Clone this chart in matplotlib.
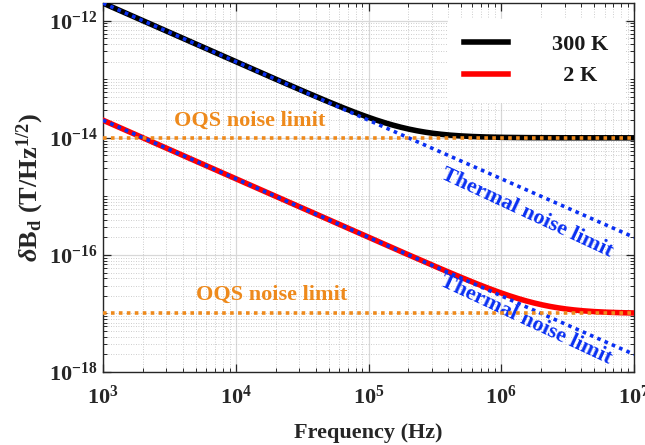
import numpy as np
import matplotlib
matplotlib.use("Agg")
import matplotlib.pyplot as plt
from matplotlib.ticker import LogLocator, FuncFormatter, NullFormatter, FixedLocator

plt.rcParams['font.family'] = ['Liberation Serif', 'DejaVu Serif']
plt.rcParams['font.weight'] = 'bold'
plt.rcParams['mathtext.fontset'] = 'custom'
plt.rcParams['mathtext.rm'] = 'Liberation Serif:bold'
plt.rcParams['mathtext.bf'] = 'Liberation Serif:bold'
plt.rcParams['mathtext.it'] = 'Liberation Serif:italic:bold'

# ---- data ----
freq = np.logspace(3, 7, 400)          # Hz
thermal_300K_at_1kHz = 2.0e-12         # T/Hz^1/2, slope -1
thermal_2K_at_1kHz = 2.0e-14
oqs_300K = 1.0e-14
oqs_2K = 1.0e-17
legend_labels = ['300 K', '  2 K']

thermal_300 = thermal_300K_at_1kHz * (1e3 / freq)
thermal_2 = thermal_2K_at_1kHz * (1e3 / freq)
total_300 = np.sqrt(thermal_300**2 + oqs_300K**2)
total_2 = np.sqrt(thermal_2**2 + oqs_2K**2)

fig = plt.figure(figsize=(6.45, 4.45), dpi=100)
ax = fig.add_axes([0.1597, 0.164, 0.8233, 0.829])

orange = '#EE8A1C'
blue = '#0A30F2'
dots = (0, (1, 1.2))

l1, = ax.plot(freq, total_300, color='black', lw=4, label=legend_labels[0], zorder=3)
l2, = ax.plot(freq, total_2, color='#FF0000', lw=4, label=legend_labels[1], zorder=3)
ax.plot(freq, thermal_300, color=blue, lw=2.6, ls=dots, zorder=4)
ax.plot(freq, thermal_2, color=blue, lw=2.6, ls=dots, zorder=4)
ax.plot(freq, np.full_like(freq, oqs_300K), color=orange, lw=2.6, ls=dots, zorder=4)
ax.plot(freq, np.full_like(freq, oqs_2K), color=orange, lw=2.6, ls=dots, zorder=4)

ax.set_xscale('log')
ax.set_yscale('log')
ax.set_xlim(1e3, 1e7)
ax.set_ylim(1e-18, 2e-12)

ax.xaxis.set_major_locator(LogLocator(base=10, numticks=10))
ax.yaxis.set_major_locator(FixedLocator([1e-18, 1e-16, 1e-14, 1e-12]))
ax.xaxis.set_minor_locator(LogLocator(base=10, subs=np.arange(2, 10), numticks=20))
ax.yaxis.set_minor_locator(LogLocator(base=10, subs=np.arange(1, 10), numticks=30))
ax.yaxis.set_minor_formatter(NullFormatter())
ax.xaxis.set_minor_formatter(NullFormatter())

fmt = FuncFormatter(lambda v, p: r'$\mathbf{10^{%d}}$' % int(round(np.log10(v))))
ax.xaxis.set_major_formatter(fmt)
ax.yaxis.set_major_formatter(fmt)

ax.tick_params(which='both', direction='in', top=True, right=True, colors='#262626',
               labelcolor='#262626', labelsize=16)
ax.tick_params(which='major', length=6, width=0.9)
ax.tick_params(which='minor', length=3, width=0.7)
ax.tick_params(axis='x', pad=10)
ax.tick_params(axis='y', pad=4)
for s in ax.spines.values():
    s.set_color('#262626')
    s.set_linewidth(1.0)

ax.grid(True, which='major', color='#d8d8d8', lw=0.9, ls='-')
ax.grid(True, which='minor', color='#bdbdbd', lw=0.6, ls=(0, (1, 2)))
ax.set_axisbelow(True)

ax.set_xlabel('Frequency (Hz)', fontsize=16, fontweight='bold', color='#262626', labelpad=10)
ax.set_ylabel(r'$\delta\mathbf{B_d\ (T/Hz^{1/2})}$', fontsize=19, color='#262626', labelpad=2)

ax.text(1.28e4, 1.96e-14, 'OQS noise limit', color=orange, fontsize=16, fontweight='bold',
        va='center', ha='center')
ax.text(1.85e4, 2.05e-17, 'OQS noise limit', color=orange, fontsize=16, fontweight='bold',
        va='center', ha='center')
ax.text(1.56e6, 5.3e-16, 'Thermal noise limit', color=blue, fontsize=16, fontweight='bold',
        rotation=-25, ha='center', va='center', rotation_mode='anchor')
ax.text(1.52e6, 7.7e-18, 'Thermal noise limit', color=blue, fontsize=16, fontweight='bold',
        rotation=-25, ha='center', va='center', rotation_mode='anchor')

leg = ax.legend(handles=[l1, l2], loc='upper right', bbox_to_anchor=(0.99, 0.97),
                fontsize=16, frameon=True, fancybox=False, edgecolor='white',
                framealpha=1, handlelength=2.0, handletextpad=2.0, borderpad=0.7,
                labelspacing=0.5, borderaxespad=0.2)
for t in leg.get_texts():
    t.set_fontweight('bold')
    t.set_color('#1a1a1a')
leg.set_zorder(10)

fig.savefig('out.png', dpi=100)
